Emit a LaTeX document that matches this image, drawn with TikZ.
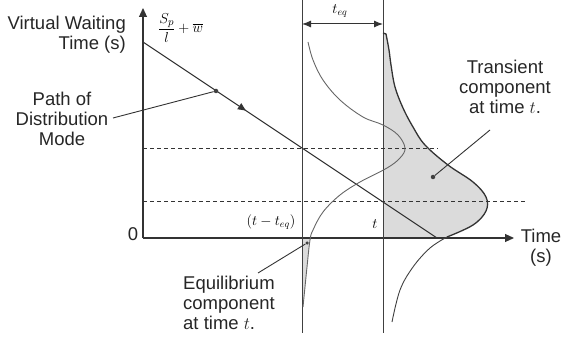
\documentclass[tikz,border=0pt]{standalone}
\usepackage{amsmath}
\usepackage{fontspec}
\setmainfont{Liberation Sans}
\usetikzlibrary{arrows.meta, decorations.markings}

\begin{document}
\begin{tikzpicture}[x=1pt, y=-1pt, line join=round,
    lbl/.style={font=\fontsize{18.5}{20}\selectfont, align=center, inner sep=0pt, text=black!85},
    mlbl/.style={font=\fontsize{14}{16}\selectfont, inner sep=0pt},
    axis/.style={line width=1.1pt, draw=black!80, -{Triangle[length=9pt, width=8pt]}},
    guide/.style={line width=1pt, draw=black!75},
    dashline/.style={line width=0.9pt, draw=black!80, dash pattern=on 4pt off 3pt},
    leader/.style={line width=0.9pt, draw=black!80},
    pt/.style={circle, fill=black!75, inner sep=0pt, minimum size=4.5pt}]

    % frame of the picture
    \useasboundingbox (0,0) rectangle (562,339);

    % main coordinates
    \coordinate (O) at (143,238);
    \coordinate (ytop) at (143,8);
    \coordinate (xend) at (514,238);
    \coordinate (A) at (143,42);
    \coordinate (B) at (437,238);

    % ==========================================
    % SHADED COMPONENTS
    % ==========================================

    % transient component at time t (area above the time axis)
    \fill[black!14] (383,33) -- plot[smooth, tension=0.6] coordinates {(386,34) (389,50) (391,65) (395,87)
        (403,108) (413,127) (425,145) (448,165) (473,182) (486,197) (486,211) (473,225) (447,237)}
        -- (383,238) -- cycle;

    % equilibrium component (spike below the axis)
    \fill[black!14] (302,238) -- plot[smooth, tension=0.6] coordinates {(310,238) (307,267) (303,307)}
        -- (302,307) -- cycle;

    % ==========================================
    % AXES AND GUIDES
    % ==========================================
    \draw[axis] (O) -- (ytop);
    \draw[axis] (O) -- (xend);

    % two time instants
    \coordinate (Lt) at (302,0);
    \coordinate (Lb) at (302,333);
    \coordinate (Rt) at (383,0);
    \coordinate (Rb) at (383,333);
    \draw[guide] (Lt) -- (Lb);
    \draw[guide] (Rt) -- (Rb);

    % t_eq span
    \coordinate (eqL) at (302,24);
    \coordinate (eqR) at (383,24);
    \draw[line width=1pt, draw=black!80, {Latex[length=9pt, width=7pt]}-{Latex[length=9pt, width=7pt]}] (eqL) -- (eqR);
    \node[mlbl] (teq) at (340,11) {$t_{eq}$};

    % dashed levels
    \draw[dashline] (143,148) -- (438,148);
    \draw[dashline] (143,201) -- (525,201);

    % path of the distribution mode
    \draw[line width=1pt, draw=black!80, postaction={decorate},
        decoration={markings, mark=at position 0.35 with {\arrow{Triangle[length=8pt, width=7pt]}}}] (A) -- (B);

    % ==========================================
    % CURVES
    % ==========================================

    % equilibrium distribution at (t - t_eq)
    \draw[line width=0.9pt, draw=black!60] plot[smooth, tension=0.6] coordinates {(308,42) (313,60) (323,80) (340,100)
        (363,117) (383,125) (398,135) (405,148) (400,158) (387,168) (360,182) (340,195) (323,212)
        (313,230) (310,240) (307,267) (303,307)};

    % transient distribution at t
    \draw[line width=1.3pt, draw=black!80] (383,33) -- plot[smooth, tension=0.6] coordinates {(386,34) (389,50) (391,65) (395,87)
        (403,108) (413,127) (425,145) (448,165) (473,182) (486,197) (486,211) (473,225) (447,237)};
    \draw[line width=0.9pt, draw=black!75] plot[smooth, tension=0.6] coordinates {(447,237) (430,248) (413,267) (400,290) (392,322)};

    % ==========================================
    % LABELS AND MARKERS
    % ==========================================
    \node[pt] (mode) at (216,91) {};
    \node[pt] (trdot) at (433,177) {};
    \node[pt, minimum size=3.5pt] (eqdot) at (307,243) {};

    \node[lbl, align=right, anchor=east] (vwt) at (126,35) {Virtual Waiting\\Time (s)};
    \node[mlbl, anchor=west, font=\fontsize{15.5}{18}\selectfont] (smax) at (158,28) {$\dfrac{S_p}{l}+\overline{w}$};
    \node[lbl] (path) at (62,119) {Path of\\Distribution\\Mode};
    \node[lbl] (trans) at (505,87) {Transient\\component\\at time $t$.};
    \node[lbl, align=left, anchor=west] (equil) at (183,303) {Equilibrium\\component\\at time $t$.};
    \node[lbl] (zero) at (133,234) {0};
    \node[lbl] (time) at (541,248) {Time\\(s)};
    \node[mlbl] (tmeq) at (271,222) {$(t-t_{eq})$};
    \node[mlbl] (tnow) at (375,224) {$t$};

    % leaders
    \coordinate (pathend) at (113,118);
    \draw[leader] (pathend) -- (mode);
    \draw[leader] (490,130) -- (trdot);
    \draw[leader] (258,273) -- (eqdot);

\end{tikzpicture}
\end{document}
